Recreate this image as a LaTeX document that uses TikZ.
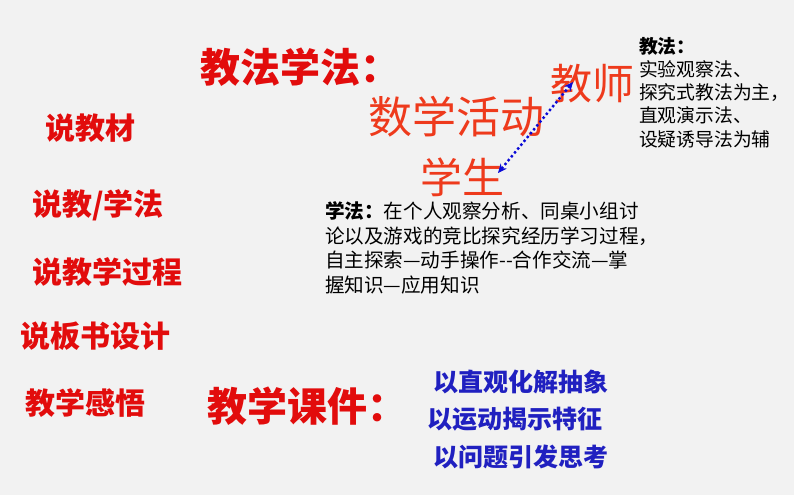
\documentclass[tikz,border=0pt]{standalone}
\usepackage{fontspec}
\newfontfamily\cjk{Noto Sans CJK SC}
\usetikzlibrary{arrows.meta}
\definecolor{bgc}{RGB}{242,242,242}
\definecolor{redc}{RGB}{226,12,12}
\definecolor{orc}{RGB}{238,58,28}
\definecolor{bluec}{RGB}{32,32,192}
\definecolor{arrc}{RGB}{10,10,215}
\tikzset{
  txt/.style={anchor=base west,inner sep=0pt,outer sep=0pt},
  item/.style={txt,text=redc,font=\cjk\bfseries\fontsize{30}{36}\selectfont},
  head/.style={txt,text=redc,font=\cjk\bfseries\fontsize{40}{48}\selectfont},
  big/.style={txt,text=orc,font=\cjk\fontsize{42}{50}\selectfont},
  note/.style={anchor=north west,inner sep=0pt,outer sep=0pt,text=black,align=left},
  blueitem/.style={txt,text=bluec,font=\cjk\bfseries\fontsize{25}{30}\selectfont},
  link/.style={arrc,line width=2.4pt,dash pattern=on 2.4pt off 2.6pt,{Stealth[length=9pt,width=8pt]}-{Stealth[length=9pt,width=8pt]}}
}
\begin{document}
\begin{tikzpicture}[x=1pt,y=-1pt]
\fill[bgc] (0,0) rectangle (794,495);
\useasboundingbox (0,0) rectangle (794,495);
% left column
\node[item] (l1) at (45,139) {说教材};
\node[item] (l2) at (32,215) {说教/学法};
\node[item] (l3) at (32,283) {说教学过程};
\node[item] (l4) at (20,347) {说板书设计};
\node[item] (l5) at (25,414) {教学感悟};
% headings
\node[head] (h1) at (200,82) {教法学法：};
\node[head] (h2) at (207,421) {教学课件：};
\node[big,font=\cjk\fontsize{44}{52}\selectfont] (act) at (368,133) {数学活动};
\node[big] (xs) at (420,193) {学生};
\node[big] (js) at (550,99) {教师};
% arrow
\coordinate (a1) at (498,173);
\coordinate (a2) at (573,82);
\draw[link] (a1) -- (a2);
% notes
\node[note,font=\cjk\fontsize{18.8}{23.3}\selectfont] (jf) at (639,37) {{\bfseries 教法：}\\实验观察法、\\探究式教法为主，\\直观演示法、\\设疑诱导法为辅};
\node[note,font=\cjk\fontsize{19.6}{24.5}\selectfont] (xf) at (325,202) {{\bfseries 学法：}在个人观察分析、同桌小组讨\\论以及游戏的竞比探究经历学习过程，\\自主探索—动手操作-{}-合作交流—掌\\握知识—应用知识};
% blue items
\node[blueitem] (b1) at (433,391) {以直观化解抽象};
\node[blueitem] (b2) at (427,428) {以运动揭示特征};
\node[blueitem] (b3) at (433,466) {以问题引发思考};
\end{tikzpicture}
\end{document}
